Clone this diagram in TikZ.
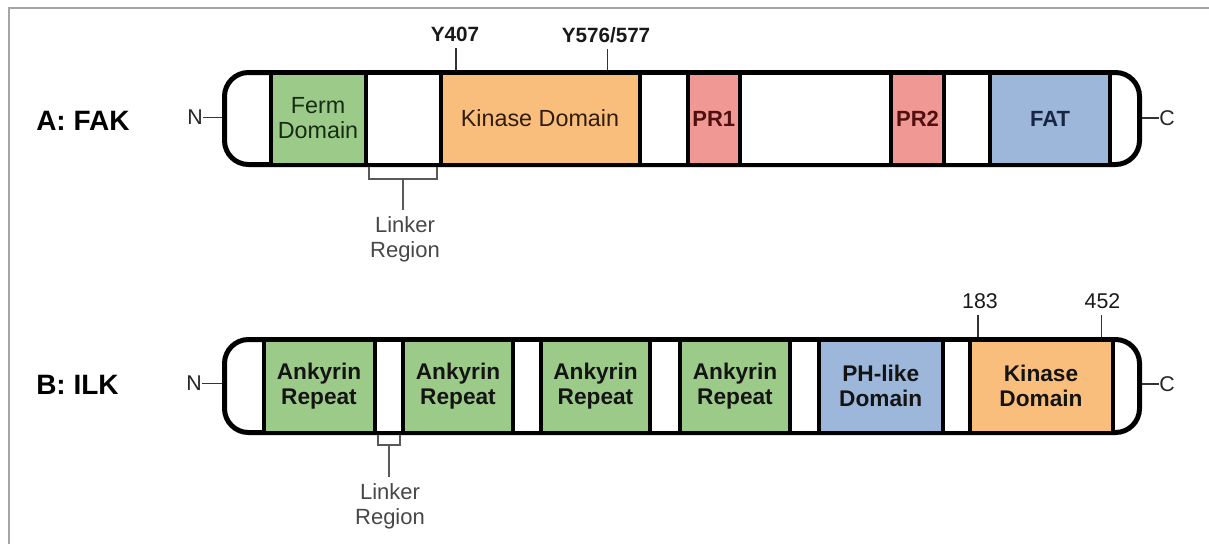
\documentclass[tikz,border=0pt]{standalone}
\usepackage{fontspec}
\setmainfont{Liberation Sans}
\definecolor{domgreen}{RGB}{156,203,137}
\definecolor{domorange}{RGB}{250,190,124}
\definecolor{dompink}{RGB}{240,152,148}
\definecolor{domblue}{RGB}{156,183,218}
\definecolor{txtgreen}{RGB}{22,44,20}
\definecolor{txtbrown}{RGB}{48,28,10}
\definecolor{txtred}{RGB}{80,16,16}
\definecolor{txtnavy}{RGB}{24,38,70}
\definecolor{framegray}{RGB}{165,165,165}
% one domain box of a protein bar: name, left x, right x, centre y, fill, text colour, font, text
\newcommand\domainbox[8]{%
  \node[segbox, fill=#5, text=#6, font=#7,
        minimum width={(#3-#2)*0.75pt}, minimum height=\barh]
        (#1) at ({(#2+#3)/2},#4) {#8};}
\newlength\barh
\begin{document}
\begin{tikzpicture}[x=0.75pt,y=-0.75pt,
  segbox/.style={draw=black, line width=3pt, inner sep=0pt, align=center},
  barbox/.style={draw=black, fill=white, line width=3.75pt, rounded corners=18pt, inner sep=0pt},
  title/.style={font=\fontsize{21}{24}\selectfont\bfseries, anchor=west, inner sep=0pt},
  endlbl/.style={font=\fontsize{16}{18}\selectfont, text=black!85, inner sep=0pt},
  sitelbl/.style={font=\fontsize{16}{18}\selectfont, text=black!90, inner sep=0pt, anchor=base},
  linklbl/.style={font=\fontsize{16.5}{18.75}\selectfont, text=black!72, align=center, inner sep=0pt, anchor=north},
  tick/.style={draw=black!80, line width=1.1pt},
  endline/.style={draw=black!80, line width=1.1pt},
  bracket/.style={draw=black!65, line width=1.1pt},
]
\useasboundingbox (0,0) rectangle (1209,544);

% outer frame (top and left edges)
\draw[framegray, line width=1.1pt] (9,544) -- (9,8) -- (1209,8);

% ---------------- A: FAK ----------------
\node[title] (titleA) at (36,121) {A: FAK};
\node[barbox, minimum width={915*0.75pt}, minimum height={92*0.75pt}] (fak) at (682,118.5) {};
\setlength\barh{69pt}
\def\fA{\fontsize{17.5}{18.75}\selectfont}
\def\fAb{\fontsize{16.5}{18.75}\selectfont\bfseries}
\domainbox{ferm}{270.5}{365.5}{118.5}{domgreen}{txtgreen}{\fA}{Ferm\\Domain}
\domainbox{linkA}{365.5}{440.5}{118.5}{white}{black}{\fA}{}
\domainbox{kinA}{440.5}{639.5}{118.5}{domorange}{txtbrown}{\fA}{Kinase Domain}
\domainbox{gapA1}{639.5}{687.5}{118.5}{white}{black}{\fA}{}
\domainbox{pr1}{687.5}{740}{118.5}{dompink}{txtred}{\fAb}{PR1}
\domainbox{gapA2}{740}{891}{118.5}{white}{black}{\fA}{}
\domainbox{pr2}{891}{944}{118.5}{dompink}{txtred}{\fAb}{PR2}
\domainbox{gapA3}{944}{990}{118.5}{white}{black}{\fA}{}
\domainbox{fat}{990}{1110}{118.5}{domblue}{txtnavy}{\fAb}{FAT}

\node[endlbl, anchor=east] (nA) at (203,117.5) {N};
\node[endlbl, anchor=west] (cA) at (1159,118) {C};
\draw[endline] (nA.east) -- (nA.east -| fak.west);
\draw[endline] (cA.west) -- (cA.west -| fak.east);

\node[sitelbl, font=\fontsize{15.5}{18}\selectfont\bfseries] (y407) at (455,41) {Y407};
\node[sitelbl, font=\fontsize{15.5}{18}\selectfont\bfseries] (y576) at (606,42) {Y576/577};
\draw[tick] ([yshift=-5pt]y407.south -| 456,0) -- (456,0 |- fak.north);
\draw[tick] ([yshift=-5pt]y576.south -| 607.5,0) -- (607.5,0 |- fak.north);

\coordinate (brA1) at (369,167);
\coordinate (brA2) at (437,167);
\coordinate (brAm) at (403,179);
\draw[bracket] (brA1) -- (369,179) -- (437,179) -- (brA2);
\node[linklbl] (linkerA) at (405,216) {Linker\\Region};
\draw[bracket, shorten >=4.5pt] (brAm) -- (brAm |- linkerA.north);

% ---------------- B: ILK ----------------
\node[title] (titleB) at (36,385) {B: ILK};
\node[barbox, minimum width={915*0.75pt}, minimum height={93*0.75pt}] (ilk) at (682,386) {};
\setlength\barh{69.75pt}
\def\fB{\fontsize{17}{18.2}\selectfont\bfseries}
\domainbox{ank1}{263.5}{374.5}{386}{domgreen}{black!92}{\fB}{Ankyrin\\Repeat}
\domainbox{linkB}{374.5}{403}{386}{white}{black}{\fB}{}
\domainbox{ank2}{403}{513}{386}{domgreen}{black!92}{\fB}{Ankyrin\\Repeat}
\domainbox{gapB1}{513}{541}{386}{white}{black}{\fB}{}
\domainbox{ank3}{541}{650}{386}{domgreen}{black!92}{\fB}{Ankyrin\\Repeat}
\domainbox{gapB2}{650}{680}{386}{white}{black}{\fB}{}
\domainbox{ank4}{680}{790}{386}{domgreen}{black!92}{\fB}{Ankyrin\\Repeat}
\domainbox{gapB3}{790}{819}{386}{white}{black}{\fB}{}
\domainbox{ph}{819}{942.5}{386}{domblue}{black!92}{\fB}{PH-like\\Domain}
\domainbox{gapB4}{942.5}{969.5}{386}{white}{black}{\fB}{}
\domainbox{kinB}{969.5}{1112.5}{386}{domorange}{black!92}{\fB}{Kinase\\Domain}

\node[endlbl, anchor=east] (nB) at (202,383.5) {N};
\node[endlbl, anchor=west] (cB) at (1159,384) {C};
\draw[endline] (nB.east) -- (nB.east -| ilk.west);
\draw[endline] (cB.west) -- (cB.west -| ilk.east);

\node[sitelbl] (s183) at (980,308) {183};
\node[sitelbl] (s452) at (1102.5,308) {452};
\draw[tick] ([yshift=-5pt]s183.south -| 978,0) -- (978,0 |- ilk.north);
\draw[tick] ([yshift=-5pt]s452.south -| 1101.5,0) -- (1101.5,0 |- ilk.north);

\coordinate (brB1) at (378,435);
\coordinate (brB2) at (400,435);
\coordinate (brBm) at (389,445);
\draw[bracket] (brB1) -- (378,445) -- (400,445) -- (brB2);
\node[linklbl] (linkerB) at (390,483) {Linker\\Region};
\draw[bracket, shorten >=4.5pt] (brBm) -- (brBm |- linkerB.north);
\end{tikzpicture}
\end{document}
